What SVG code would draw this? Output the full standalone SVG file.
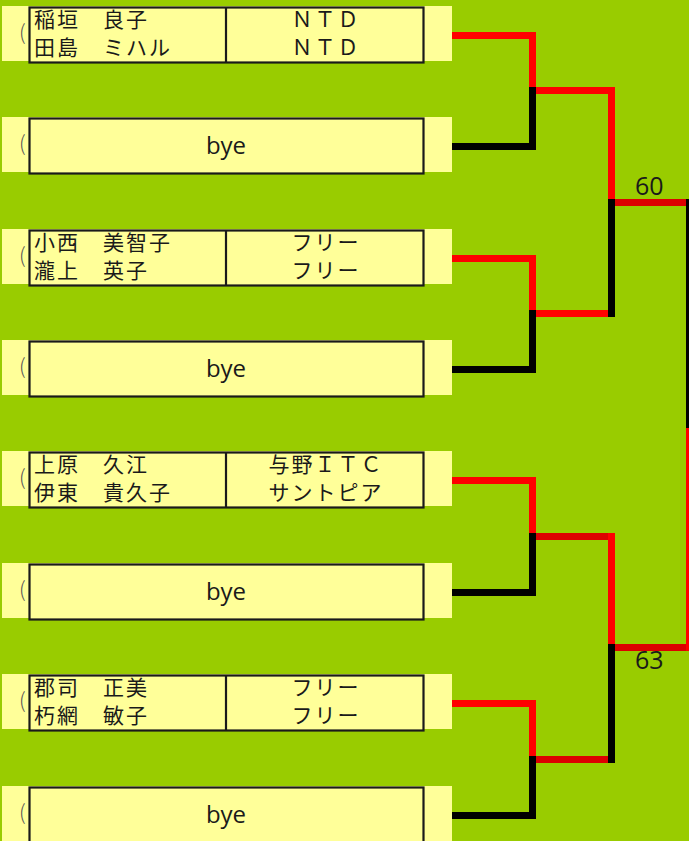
<svg xmlns="http://www.w3.org/2000/svg" width="689" height="841" viewBox="0 0 689 841">
<style>
.strip{fill:#FFFF99}
.box{fill:#FFFF99;stroke:#1a1a1a;stroke-width:2.2}
.div{stroke:#1a1a1a;stroke-width:2.2}
.jp{font-family:"Noto Sans CJK JP","Noto Sans",sans-serif;font-size:21px;letter-spacing:2px;fill:#1a1a1a}
.mid{text-anchor:middle}
.bye{font-family:"Open Sans","Noto Sans",sans-serif;font-size:24px;fill:#1a1a1a;text-anchor:middle}
.par{font-family:"Noto Sans CJK JP","Noto Sans",sans-serif;font-weight:300;font-size:21px;fill:#555}
.score{font-family:"Open Sans","Noto Sans",sans-serif;font-size:25px;fill:#1a1a1a}
.r{fill:#FF0000}
.d{fill:#DD0000}
.k{fill:#000000}
</style>
<rect x="0" y="0" width="689" height="841" fill="#99CC00"/>

<g id="entry1" transform="translate(0,6)">
<rect class="strip" x="2" y="0" width="450" height="55"/>
<text class="par" x="19" y="34">(</text>
<rect class="box" x="29.5" y="1.5" width="394" height="55"/>
<line class="div" x1="226" y1="1.5" x2="226" y2="56.5"/>
<text class="jp" x="34" y="21">稲垣　良子</text>
<text class="jp" x="34" y="49">田島　ミハル</text>
<text class="jp mid" x="326" y="21">ＮＴＤ</text>
<text class="jp mid" x="326" y="49">ＮＴＤ</text>
</g>
<g id="entry2" transform="translate(0,117)">
<rect class="strip" x="2" y="0" width="450" height="55"/>
<text class="par" x="19" y="34">(</text>
<rect class="box" x="29.5" y="1.5" width="394" height="55"/>
<text class="bye" x="226" y="37">bye</text>
</g>
<g id="entry3" transform="translate(0,229)">
<rect class="strip" x="2" y="0" width="450" height="55"/>
<text class="par" x="19" y="34">(</text>
<rect class="box" x="29.5" y="1.5" width="394" height="55"/>
<line class="div" x1="226" y1="1.5" x2="226" y2="56.5"/>
<text class="jp" x="34" y="21">小西　美智子</text>
<text class="jp" x="34" y="49">瀧上　英子</text>
<text class="jp mid" x="326" y="21">フリー</text>
<text class="jp mid" x="326" y="49">フリー</text>
</g>
<g id="entry4" transform="translate(0,340)">
<rect class="strip" x="2" y="0" width="450" height="55"/>
<text class="par" x="19" y="34">(</text>
<rect class="box" x="29.5" y="1.5" width="394" height="55"/>
<text class="bye" x="226" y="37">bye</text>
</g>
<g id="entry5" transform="translate(0,451)">
<rect class="strip" x="2" y="0" width="450" height="55"/>
<text class="par" x="19" y="34">(</text>
<rect class="box" x="29.5" y="1.5" width="394" height="55"/>
<line class="div" x1="226" y1="1.5" x2="226" y2="56.5"/>
<text class="jp" x="34" y="21">上原　久江</text>
<text class="jp" x="34" y="49">伊東　貴久子</text>
<text class="jp mid" x="326" y="21">与野ＩＴＣ</text>
<text class="jp mid" x="326" y="49">サントピア</text>
</g>
<g id="entry6" transform="translate(0,563)">
<rect class="strip" x="2" y="0" width="450" height="55"/>
<text class="par" x="19" y="34">(</text>
<rect class="box" x="29.5" y="1.5" width="394" height="55"/>
<text class="bye" x="226" y="37">bye</text>
</g>
<g id="entry7" transform="translate(0,674)">
<rect class="strip" x="2" y="0" width="450" height="55"/>
<text class="par" x="19" y="34">(</text>
<rect class="box" x="29.5" y="1.5" width="394" height="55"/>
<line class="div" x1="226" y1="1.5" x2="226" y2="56.5"/>
<text class="jp" x="34" y="21">郡司　正美</text>
<text class="jp" x="34" y="49">朽網　敏子</text>
<text class="jp mid" x="326" y="21">フリー</text>
<text class="jp mid" x="326" y="49">フリー</text>
</g>
<g id="entry8" transform="translate(0,786)">
<rect class="strip" x="2" y="0" width="450" height="55"/>
<text class="par" x="19" y="34">(</text>
<rect class="box" x="29.5" y="1.5" width="394" height="57"/>
<text class="bye" x="226" y="37">bye</text>
</g>

<g id="connectors">
<rect class="r" x="452" y="32" width="77" height="7"/>
<rect class="k" x="452" y="143" width="77" height="7"/>
<rect class="r" x="529" y="32" width="7" height="55"/>
<rect class="k" x="529" y="87" width="7" height="63"/>
<rect class="r" x="536" y="87" width="72" height="7"/>
<rect class="r" x="452" y="255" width="77" height="7"/>
<rect class="k" x="452" y="366" width="77" height="7"/>
<rect class="r" x="529" y="255" width="7" height="55"/>
<rect class="k" x="529" y="310" width="7" height="63"/>
<rect class="r" x="536" y="310" width="72" height="7"/>
<rect class="r" x="452" y="477" width="77" height="7"/>
<rect class="k" x="452" y="589" width="77" height="7"/>
<rect class="r" x="529" y="477" width="7" height="56"/>
<rect class="k" x="529" y="533" width="7" height="63"/>
<rect class="d" x="536" y="533" width="72" height="7"/>
<rect class="r" x="452" y="700" width="77" height="7"/>
<rect class="k" x="452" y="812" width="77" height="7"/>
<rect class="r" x="529" y="700" width="7" height="56"/>
<rect class="k" x="529" y="756" width="7" height="63"/>
<rect class="d" x="536" y="756" width="72" height="7"/>
<rect class="r" x="608" y="87" width="7" height="112"/>
<rect class="k" x="608" y="199" width="7" height="118"/>
<rect class="d" x="615" y="199" width="74" height="7"/>
<rect class="r" x="608" y="533" width="7" height="111"/>
<rect class="k" x="608" y="644" width="7" height="119"/>
<rect class="d" x="615" y="644" width="74" height="7"/>
<rect class="k" x="686" y="199" width="7" height="229"/>
<rect class="r" x="686" y="428" width="7" height="223"/>
</g>

<g id="scores">
<text class="score" x="635" y="195">60</text>
<text class="score" x="635" y="669">63</text>
</g>
</svg>
